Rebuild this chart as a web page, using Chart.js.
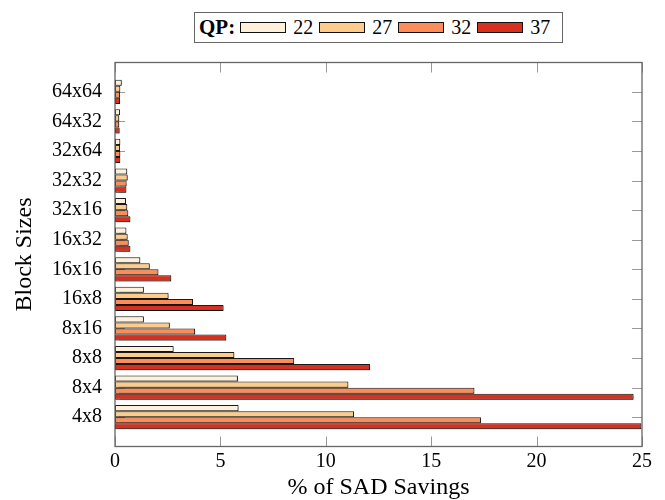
<!DOCTYPE html>
<html>
<head>
<meta charset="utf-8">
<script src="https://cdn.jsdelivr.net/npm/chart.js@4/dist/chart.umd.min.js"></script>
<style>
  body { margin: 0; background: #fff; }
  #wrap { position: relative; width: 665px; height: 500px; }
  #legend {
    position: absolute; left: 194px; top: 12px; width: 369px; height: 31px;
    box-sizing: border-box; border: 1px solid #666; background: #fff;
    display: flex; align-items: center; padding-left: 4px;
    font-family: "Liberation Serif", serif; font-size: 20px; color: #000;
  }
  #legend b { margin-right: 5px; font-size: 21px; }
  #legend .sw { width: 46px; height: 11px; border: 1px solid #111; box-sizing: border-box; margin-right: 7px; }
  #legend .lb { margin-right: 6px; }
</style>
</head>
<body>
<div id="wrap">
  <canvas id="chart" width="665" height="500"></canvas>
  <div id="legend"><b>QP:</b></div>
</div>
<script>
const categories = ['64x64', '64x32', '32x64', '32x32', '32x16', '16x32', '16x16', '16x8', '8x16', '8x8', '8x4', '4x8'];
const qpLabels = ['22', '27', '32', '37'];
const qp22 = [0.32, 0.24, 0.25, 0.58, 0.52, 0.54, 1.2, 1.37, 1.37, 2.78, 5.83, 5.86];
const qp27 = [0.25, 0.2, 0.24, 0.6, 0.58, 0.6, 1.65, 2.54, 2.6, 5.66, 11.07, 11.34];
const qp32 = [0.24, 0.2, 0.25, 0.55, 0.63, 0.65, 2.06, 3.7, 3.8, 8.5, 17.05, 17.36];
const qp37 = [0.24, 0.22, 0.25, 0.54, 0.73, 0.73, 2.67, 5.15, 5.28, 12.1, 24.6, 24.97];
const xTicks = [0, 5, 10, 15, 20, 25];

const colors = ['#fef0d9', '#fdcc8a', '#fc8d59', '#d7301f'];
const series = [qp22, qp27, qp32, qp37];
const serif = '"Liberation Serif", "Times New Roman", serif';
const framePad = 14.5;

// inside tick marks + axis frame, pgfplots style
const frame = {
  id: 'frame',
  beforeDatasetsDraw(chart) {
    const { ctx, chartArea: a, scales } = chart;
    const top = a.top - framePad, bottom = a.bottom + framePad;
    ctx.save();
    ctx.strokeStyle = '#999';
    ctx.lineWidth = 1;
    ctx.beginPath();
    xTicks.forEach(v => {
      const x = Math.round(scales.x.getPixelForValue(v)) + 0.5;
      ctx.moveTo(x, bottom); ctx.lineTo(x, bottom - 10);
      ctx.moveTo(x, top); ctx.lineTo(x, top + 10);
    });
    categories.forEach((c, i) => {
      const y = Math.round(scales.y.getPixelForValue(i)) + 0.5;
      ctx.moveTo(a.left, y); ctx.lineTo(a.left + 10, y);
      ctx.moveTo(a.right, y); ctx.lineTo(a.right - 10, y);
    });
    ctx.stroke();
    ctx.restore();
    // soft shadow under the bars
    ctx.shadowColor = 'rgba(0,0,0,0.35)';
    ctx.shadowOffsetX = 1;
    ctx.shadowOffsetY = 1;
    ctx.shadowBlur = 1;
  },
  afterDatasetsDraw(chart) {
    const { ctx, chartArea: a } = chart;
    ctx.shadowColor = 'transparent';
    ctx.save();
    ctx.strokeStyle = '#666';
    ctx.lineWidth = 1.3;
    ctx.strokeRect(a.left, a.top - framePad, a.right - a.left, a.bottom - a.top + 2 * framePad);
    ctx.restore();
  }
};

const chart = new Chart(document.getElementById('chart'), {
  type: 'bar',
  data: {
    labels: categories,
    datasets: series.map((d, i) => ({
      label: qpLabels[i],
      data: d,
      backgroundColor: colors[i],
      borderColor: '#1a1a1a',
      borderWidth: 1,
      borderSkipped: false,
      barPercentage: 1,
      categoryPercentage: 0.82
    }))
  },
  options: {
    indexAxis: 'y',
    responsive: false,
    animation: false,
    layout: { padding: { top: 77, right: 23, left: 0, bottom: 0 } },
    plugins: {
      legend: { display: false },
      tooltip: { enabled: false }
    },
    scales: {
      x: {
        min: 0,
        max: 25,
        afterFit(scale) {
          scale.height = 68;
          scale.paddingLeft = 0;
          scale.paddingRight = 0;
        },
        afterBuildTicks(scale) { scale.ticks = xTicks.map(v => ({ value: v })); },
        grid: { display: false, drawTicks: false },
        border: { display: false },
        ticks: { color: '#000', padding: 18, maxRotation: 0, font: { family: serif, size: 20 } },
        title: {
          display: true,
          text: '% of SAD Savings',
          color: '#000',
          padding: { top: 0, bottom: -2 },
          font: { family: serif, size: 24 }
        }
      },
      y: {
        afterFit(scale) { scale.width = 115; },
        grid: { display: false, drawTicks: false },
        border: { display: false },
        ticks: { color: '#000', padding: 13, font: { family: serif, size: 20 } },
        title: {
          display: true,
          text: 'Block Sizes',
          color: '#000',
          padding: { top: 10, bottom: 0 },
          font: { family: serif, size: 24 }
        }
      }
    }
  },
  plugins: [frame]
});

const legend = document.getElementById('legend');
chart.data.datasets.forEach(ds => {
  const sw = document.createElement('span');
  sw.className = 'sw';
  sw.style.background = ds.backgroundColor;
  const lb = document.createElement('span');
  lb.className = 'lb';
  lb.textContent = ds.label;
  legend.appendChild(sw);
  legend.appendChild(lb);
});
</script>
</body>
</html>
